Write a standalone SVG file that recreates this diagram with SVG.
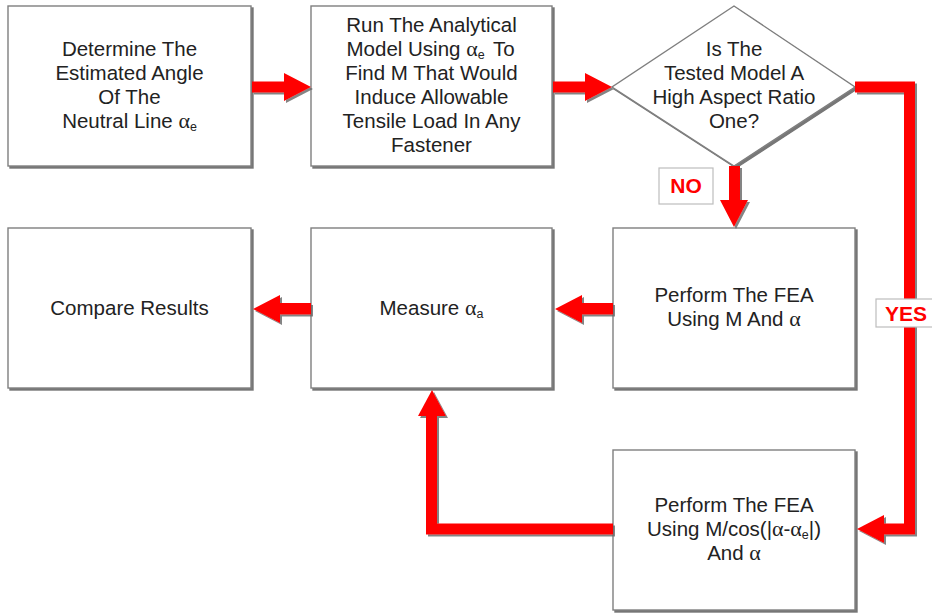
<svg xmlns="http://www.w3.org/2000/svg" width="932" height="614" viewBox="0 0 932 614">
<defs>
<filter id="sh" x="-5%" y="-5%" width="115%" height="115%">
<feDropShadow dx="2" dy="2" stdDeviation="0.7" flood-color="#555" flood-opacity="0.8"/>
</filter>
<filter id="ash" x="-10%" y="-10%" width="130%" height="130%">
<feDropShadow dx="2" dy="2" stdDeviation="0.6" flood-color="#666" flood-opacity="0.8"/>
</filter>
</defs>
<style>
.box{fill:#fff;stroke:#7f7f7f;stroke-width:1.4;filter:url(#sh)}
.t{font-family:"Liberation Sans",Arial,sans-serif;font-size:20.5px;fill:#222;text-anchor:middle}
.s{text-anchor:start}
.g{font-family:"Liberation Serif","Times New Roman",serif;font-size:22px}
.sub{font-size:12.5px}
.arr{fill:#ff0000}
.line{fill:none;stroke:#ff0000;stroke-width:11;stroke-linejoin:miter}
.lbl{fill:#fff;stroke:#bdbdbd;stroke-width:1.2}
.lt{font-family:"Liberation Sans",Arial,sans-serif;font-size:21px;font-weight:bold;fill:#ff0000}
</style>
<rect width="932" height="614" fill="#fff"/>

<g id="n1">
<rect class="box" x="8" y="6" width="243" height="160"/>
<text class="t" x="129.5" y="56">Determine The</text>
<text class="t" x="129.5" y="80">Estimated Angle</text>
<text class="t" x="129.5" y="104">Of The</text>
<text class="t" x="129.5" y="128">Neutral Line <tspan class="g">α</tspan><tspan class="sub" dy="2.5">e</tspan></text>
</g>

<g id="n2">
<rect class="box" x="311" y="6" width="241" height="160"/>
<text class="t" x="431.5" y="32">Run The Analytical</text>
<text class="t s" x="346.5" y="56">Model Using <tspan class="g">α</tspan><tspan class="sub" dy="2.5">e</tspan></text>
<text class="t s" x="493" y="56">To</text>
<text class="t" x="431.5" y="80">Find M That Would</text>
<text class="t" x="431.5" y="104">Induce Allowable</text>
<text class="t" x="431.5" y="128">Tensile Load In Any</text>
<text class="t" x="431.5" y="152">Fastener</text>
</g>

<g id="n3">
<polygon class="box" points="734,6 855,87 734,166 612,87"/>
<text class="t" x="734" y="56">Is The</text>
<text class="t" x="734" y="80">Tested Model A</text>
<text class="t" x="734" y="104">High Aspect Ratio</text>
<text class="t" x="734" y="128">One?</text>
</g>

<g id="n4">
<rect class="box" x="613" y="228" width="242" height="160"/>
<text class="t" x="734" y="302">Perform The FEA</text>
<text class="t" x="734" y="326">Using M And <tspan class="g">α</tspan></text>
</g>

<g id="n5">
<rect class="box" x="311" y="228" width="241" height="160"/>
<text class="t" x="431.5" y="315">Measure <tspan class="g">α</tspan><tspan class="sub" dy="2.5">a</tspan></text>
</g>

<g id="n6">
<rect class="box" x="8" y="228" width="243" height="160"/>
<text class="t" x="129.5" y="315">Compare Results</text>
</g>

<g id="n7">
<rect class="box" x="613" y="450" width="242" height="160"/>
<text class="t" x="734" y="512">Perform The FEA</text>
<text class="t" x="734" y="536">Using M/cos(|<tspan class="g">α</tspan>-<tspan class="g">α</tspan><tspan class="sub" dy="2.5">e</tspan><tspan dy="-2.5">|)</tspan></text>
<text class="t" x="734" y="560">And <tspan class="g">α</tspan></text>
</g>

<g id="connectors" filter="url(#ash)">
<polygon class="arr" points="252,81.5 284,81.5 284,73 311,87 284,101 284,92.5 252,92.5"/>
<polygon class="arr" points="553,81.5 585,81.5 585,73 612,87 585,101 585,92.5 553,92.5"/>
<polygon class="arr" points="729,166 740,166 740,200 748,200 734,227 720,200 729,200"/>
<polygon class="arr" points="613,303 582,303 582,295 555,309 582,323 582,314.5 613,314.5"/>
<polygon class="arr" points="311,303 280,303 280,295 253,309 280,323 280,314.5 311,314.5"/>
<polyline class="line" points="855,87 909.5,87 909.5,529 882,529"/>
<polygon class="arr" points="884,515 857,529 884,543"/>
<polyline class="line" points="613,529 431.5,529 431.5,415"/>
<polygon class="arr" points="418,416 432,390 446,416"/>
</g>

<g id="label-no">
<rect class="lbl" x="659" y="168" width="54" height="36"/>
<text class="lt" x="686" y="193" text-anchor="middle">NO</text>
</g>
<g id="label-yes">
<rect class="lbl" x="876" y="299" width="62" height="28"/>
<text class="lt" x="885" y="321">YES</text>
</g>
</svg>
